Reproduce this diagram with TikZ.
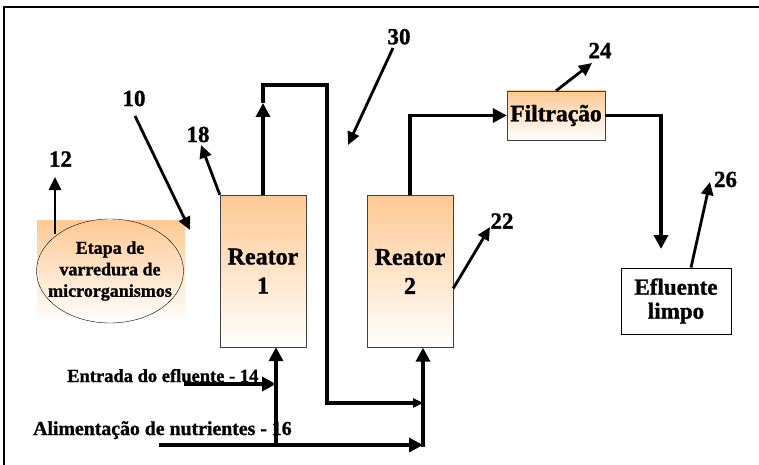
\documentclass[tikz,border=0pt]{standalone}
\usepackage{fontspec}
\setmainfont{Liberation Serif}[BoldFeatures={FakeBold=1.2}]
\usetikzlibrary{arrows.meta,shapes.geometric}
\definecolor{peach}{HTML}{FFC993}
\definecolor{edge}{HTML}{404040}

\begin{document}
\begin{tikzpicture}[x=1pt,y=-1pt,every node/.style={font=\bfseries},
    vessel/.style={draw=edge,top color=peach,bottom color=white,minimum width=86pt,minimum height=152pt,inner sep=0pt,align=center,font=\bfseries\fontsize{24}{29}\selectfont},
    tag/.style={inner sep=0pt,font=\bfseries\fontsize{23}{23}\selectfont},
    flow/.style={line width=3.8pt,-{Triangle[length=14pt,width=14pt]}},
    pointer/.style={line width=2.8pt,-{Triangle[length=13pt,width=12pt]}}]
    \useasboundingbox (0,0) rectangle (759,465);
    \draw[line width=2.2pt] (4,465) -- (4,7) -- (759,7);

    \shade[top color=peach,bottom color=white] (37,220) rectangle (185,323);
    \node[draw,ellipse,minimum width=147pt,minimum height=104pt,inner sep=0pt] (sweep) at (110,271) {};
    \node[inner sep=0pt,align=center,font=\bfseries\fontsize{18}{21.5}\selectfont] (sweeptext) at (sweep.center)
      {Etapa de\\varredura de\\microrganismos};
    \node[vessel] (r1) at (263,271) {Reator\\1};
    \node[vessel] (r2) at (410,271.5) {Reator\\2};
    \node[draw=edge,top color=peach,bottom color=white,minimum width=98pt,minimum height=49pt,inner sep=0pt,font=\bfseries\fontsize{23.5}{24}\selectfont] (filtro) at (556,115.5) {Filtração};
    \node[draw,thick,minimum width=110pt,minimum height=66pt,inner sep=0pt,align=center,font=\bfseries\fontsize{23}{24}\selectfont] (limpo) at (676,301) {Efluente\\limpo};

    \node[tag] (n10) at (134,98.5) {10};
    \node[tag] (n12) at (60.5,159) {12};
    \node[tag] (n18) at (198,134.5) {18};
    \node[tag] (n30) at (399,36.7) {30};
    \node[tag] (n24) at (600,50.5) {24};
    \node[tag] (n22) at (502,221) {22};
    \node[tag] (n26) at (725.5,179.5) {26};
    \node[anchor=base west,inner sep=0pt,font=\bfseries\fontsize{18.5}{20}\selectfont] (entrada) at (67,382) {Entrada do efluente - 14};
    \node[anchor=base west,inner sep=0pt,font=\bfseries\fontsize{19.8}{20}\selectfont] (alim) at (33,435) {Alimentação de nutrientes - 16};

    \coordinate (t12) at (55,177);
    \coordinate (p10) at (135,116);
    \coordinate (t10) at (190,230);
    \coordinate (t18) at (201,145);
    \coordinate (p30) at (393,48);
    \coordinate (t30) at (348,145);
    \coordinate (t24) at (592,63);
    \coordinate (t22) at (490,227);
    \coordinate (t26) at (710,182);
    \coordinate (top1) at (263,103);
    \coordinate (over1) at (327,85);
    \coordinate (drop1) at (327,403);
    \coordinate (out) at (661,249);
    \coordinate (efl) at (184,384);
    \coordinate (nutr) at (159,445);
    \coordinate (feed1) at ([xshift=13pt]r1.south);
    \coordinate (feed2) at ([xshift=13pt]r2.south);

    \draw[pointer] (t12 |- sweep.north west) -- (t12);
    \draw[pointer] (p10) -- (t10);
    \draw[pointer] (r1.north west) -- (t18);
    \draw[pointer] (p30) -- (t30);
    \draw[pointer] (filtro.north) -- (t24);
    \draw[pointer] ([yshift=-17pt]r2.east) -- (t22);
    \draw[pointer] ([xshift=15pt]limpo.north) -- (t26);

    \draw[flow] (r1.north) -- (top1);
    \draw[line width=3.2pt,-{Triangle[length=10pt,width=9pt]}] (top1) |- (over1) -- (drop1) -- (drop1 -| feed2);
    \draw[flow] (r2.north) |- (filtro.west);
    \draw[flow] (filtro.east) -| (out);
    \draw[flow] (efl) -- (efl -| feed1);
    \draw[flow] (nutr) -- (nutr -| feed2);
    \draw[flow] ([yshift=-1.9pt]nutr -| feed1) -- (feed1);
    \draw[flow] ([yshift=-1.9pt]nutr -| feed2) -- (feed2);
  \end{tikzpicture}
\end{document}
